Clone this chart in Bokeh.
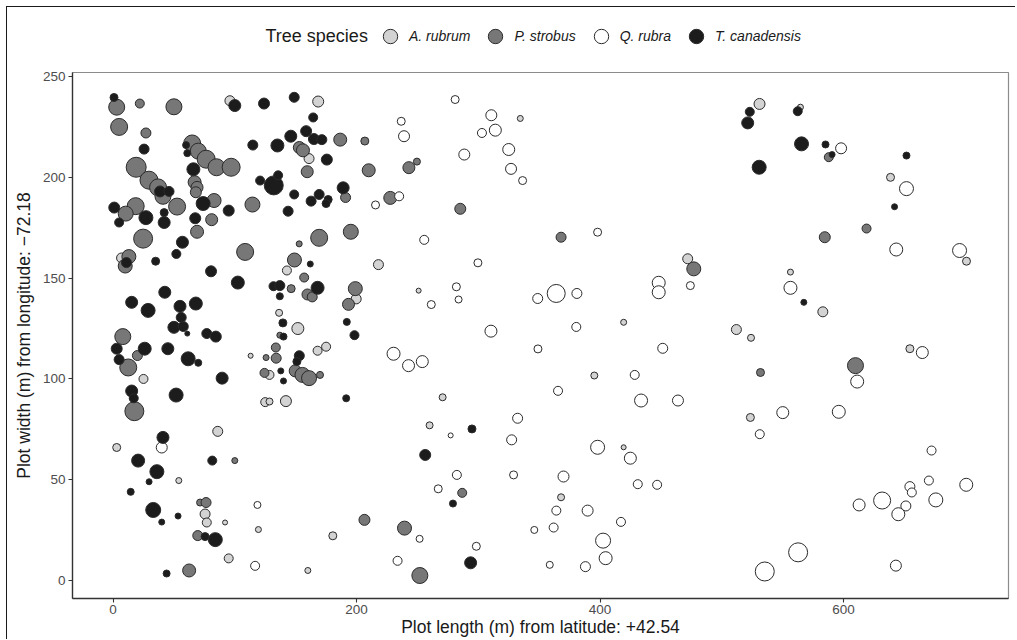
from bokeh.plotting import figure
from bokeh.layouts import column
from bokeh.models import (Range1d, FixedTicker, Legend, LegendItem, Label,
                          ColumnDataSource)
from bokeh.embed import file_html
from bokeh.resources import INLINE

# ---------------- data ----------------
species = ["A. rubrum", "P. strobus", "Q. rubra", "T. canadensis"]
fill_colors = ["#d3d3d3", "#777777", "#ffffff", "#1c1c1c"]

# A. rubrum
acru_x = [96, 168.5, 7, 161, 142.8, 218, 199.7, 136.4, 151.8, 113, 25, 86, 3, 54, 75.6, 77, 92, 95,
          168, 175, 128.5, 125, 128.5, 142, 119.4, 180.5, 160, 334.5, 472, 251, 419.4, 395.3, 270.7,
          260, 419.4, 368, 531, 564.6, 638.6, 701, 556.4, 583, 512, 524, 654.5, 523.5]
acru_y = [238, 237.6, 160, 209.3, 153.8, 156.7, 139.7, 132.8, 125, 111.5, 100, 74, 66, 49.6, 33, 28.8,
          28.8, 11, 114, 116, 102, 88.5, 88.8, 89, 25.3, 22.2, 5, 229.2, 159.6, 143.8, 128.1, 101.7,
          90.9, 77, 66.1, 41.3, 236.4, 234.8, 200, 158.4, 153, 133.3, 124.5, 120.4, 115, 80.9]
acru_d = [10, 11, 10, 10, 9, 10, 10, 7, 12, 5, 9, 10, 8, 6, 10, 9, 5, 9, 9, 9, 9, 9, 7, 11, 6, 8, 6,
          6, 10, 5, 6, 7, 7, 7, 5, 7, 11, 6, 8, 8, 6, 10, 10, 7, 8, 8]

# P. strobus
pist_x = [3, 22, 50, 5, 27, 65, 70, 76.5, 85, 97, 19, 29.5, 37, 41, 67, 69, 68, 83, 52.6, 18.6, 10.4,
          81, 69, 24.7, 13, 10, 108.5, 8, 20, 12.5, 100, 17.5, 71.5, 76.4, 69.6, 62.5,
          186.6, 206.8, 153, 156, 210, 243, 249.6, 159.5, 191, 114.5, 227.7, 169.3, 195.3, 152.9,
          149, 157, 146.3, 159.7, 163.6, 199, 193.4, 133.7, 125.7, 134, 124.4, 149.6, 155.6, 161,
          170, 206.5, 239.4, 252, 285.2, 368, 477, 286.8, 587.9, 618.9, 584.6, 609.8, 531.8, 137]
pist_y = [234.8, 236.6, 235, 225, 222, 216.8, 213, 209, 205, 205, 205, 198.6, 195, 190.6, 197.6, 195,
          192.6, 188.5, 185.5, 185.7, 182, 179, 173, 169.6, 160.7, 156, 163, 121, 111.6, 105.7, 59.5,
          84, 38.7, 38.7, 22.3, 5,
          218.7, 218, 214.8, 213.4, 203.5, 204.8, 207.8, 202.8, 190, 186.5, 189.8, 170, 173, 167,
          159, 150.3, 144.8, 141.9, 140.7, 144.8, 137, 115.6, 110.6, 110.3, 103, 104, 102, 100.4,
          102, 30.1, 26, 2.5, 184.4, 170.3, 154.6, 43.5, 210, 174.6, 170.3, 106.6, 103.2, 121.7]
pist_d = [16, 9, 16, 17, 10, 17, 16, 18, 17, 18, 20, 18, 17, 16, 13, 12, 11, 14, 17, 17, 15,
          12, 13, 19, 14, 14, 17, 16, 10, 17, 6, 19, 7, 10, 10, 13,
          13, 8, 12, 13, 13, 12, 7, 12, 10, 15, 13, 17, 15, 6,
          14, 9, 8, 11, 10, 14, 12, 9, 6, 10, 9, 12, 15, 15,
          7, 11, 14, 16, 11, 10, 14, 9, 9, 9, 11, 16, 8, 6]

# Q. rubra
quru_x = [40, 236.7, 239, 215.6, 235, 230.4, 242.7, 254, 118.6, 233.7, 251.8, 116.7, 281, 310.7, 303,
          314, 325, 288.5, 326.9, 336.4, 255.6, 398, 474.2, 299.7, 282, 283.8, 261.4, 348.8, 364, 381,
          448.2, 448.2, 310.4, 380.5, 349, 451.5, 428.5, 365.5, 433.7, 464, 277.3, 332.3, 327.4, 398,
          424.9, 282.4, 329, 370, 431, 446.9, 267.1, 364.1, 389.8, 417.2, 346, 361.9, 402.5, 298.4,
          404.6, 358.7, 388,
          598, 651.7, 643.3, 695.3, 556.4, 664.7, 611.2, 550.1, 596.1, 531.2, 672.3, 670.1, 654.5,
          656.1, 700.8, 675.8, 631.7, 612.8, 651.2, 645, 562.7, 535.3, 643]
quru_y = [66, 227.8, 220.4, 186.3, 190.6, 112.5, 106.6, 108.6, 37.5, 9.8, 20.7, 7.3, 238.6, 230.8, 222,
          223.4, 213.8, 211.3, 204.2, 198.4, 169, 172.8, 146.3, 157.6, 145.7, 139.4, 136.9, 139.9,
          142.4, 142.4, 147.7, 143, 123.7, 125.8, 114.9, 115.2, 102, 94.1, 89.3, 89.3, 72, 80.5, 69.8,
          66.1, 60.7, 52.4, 52.4, 51.6, 47.8, 47.5, 45.5, 34.7, 34.7, 29.1, 25.1, 26.3, 19.8, 17,
          11.1, 7.8, 6.9,
          214.4, 194.4, 164.2, 163.7, 145.2, 113.1, 98.7, 83.3, 83.7, 72.6, 64.5, 49.6, 46.6,
          43.7, 47.5, 40, 39.7, 37.5, 37, 32.9, 14, 4.5, 7.4]
quru_d = [11, 8, 11, 8, 9, 13, 12, 12, 7, 9, 7, 9, 8, 11, 9,
          12, 12, 11, 11, 8, 9, 8, 8, 8, 8, 7, 8, 10, 18, 10,
          13, 13, 12, 9, 8, 10, 9, 9, 13, 11, 5, 10, 10, 14,
          12, 9, 8, 11, 9, 9, 8, 9, 11, 9, 7, 9, 15, 8,
          13, 7, 10,
          11, 14, 13, 14, 13, 12, 13, 12, 13, 9, 9, 9, 10,
          9, 13, 14, 17, 12, 10, 13, 19, 19, 11]

# T. canadensis
tsca_x = [0.8, 100, 25.5, 60, 61, 66, 38.6, 46, 74, 1, 5, 27, 42, 42, 67.5, 95, 57, 52, 11, 35, 80.5,
          102.5, 42.5, 15.3, 28.8, 55, 68, 56, 50, 57.7, 61, 77, 84.4, 3, 26, 45, 5, 61.7, 70, 89.6,
          15.3, 17, 51.8, 41, 20.6, 81.5, 36, 29.6, 14.5, 33, 53.4, 40, 75.6, 84, 44,
          124, 148.8, 164.4, 114.8, 135, 146, 158.6, 165, 171.5, 175.6, 120.8, 132, 135.6, 148.8,
          143.8, 162.7, 169.3, 176.7, 175, 189, 162, 131.8, 137, 137, 168, 139.5, 192, 198.3, 140,
          153, 151, 137.8, 140, 191.5, 294.8, 256.4, 279.2, 293.7,
          523, 521.3, 562.4, 565.5, 530.7, 585.2, 590.6, 651.7, 641.9, 567.4]
tsca_y = [239.6, 235.6, 214, 216, 212, 204, 193, 193, 187, 185, 177.6, 180, 182.5, 177.6, 179.7, 183.5,
          167.8, 162, 157.7, 158.4, 153.4, 147.8, 143, 138, 134, 136, 137.4, 130.5, 125.6, 126, 122.5,
          122.5, 121, 115, 115, 115, 109.6, 110, 108, 100.4, 94, 90.4, 92, 71, 59.5, 59.5, 54, 49, 44,
          35, 32, 29, 21.8, 20.3, 3.5,
          236.6, 239.7, 229.7, 216, 215.8, 220.4, 222.9, 219, 218.7, 208.8, 198.4, 196, 201, 191.5,
          183.2, 188.2, 191.5, 189, 187, 194.8, 157, 146, 146.3, 141, 145.2, 127.8, 128.3, 121.7, 121,
          111.5, 108.6, 104, 99, 90.4, 75.2, 62.3, 38.2, 8.8,
          232.5, 227, 232.8, 216.6, 205, 216.3, 211.3, 210.8, 185.4, 138]
tsca_d = [8, 12, 10, 7, 7, 13, 11, 10, 14, 11, 9, 14, 8, 12, 11, 11, 12, 9, 10, 8, 11,
          13, 12, 12, 14, 12, 13, 10, 12, 10, 5, 10, 11, 11, 13, 12, 10, 14, 7, 12,
          12, 9, 14, 12, 13, 9, 14, 6, 7, 15, 6, 6, 8, 14, 7,
          11, 10, 9, 10, 13, 12, 11, 11, 10, 11, 9, 19, 9, 9,
          10, 10, 10, 8, 8, 12, 6, 9, 10, 7, 13, 8, 7, 9, 7,
          10, 8, 6, 6, 7, 8, 11, 7, 12,
          9, 12, 9, 14, 14, 7, 6, 7, 6, 6]

x_ticks = [0, 200, 400, 600]
y_ticks = [0, 50, 100, 150, 200, 250]

FONT = "Liberation Sans"
LINE = "#2b2b2b"

# ---------------- legend strip (top) ----------------
top = figure(width=1008, height=57, x_range=Range1d(0, 1), y_range=Range1d(0, 1),
             min_border=0, output_backend="svg", toolbar_location=None)
top.axis.visible = False
top.xgrid.visible = False
top.ygrid.visible = False
top.outline_line_color = None
top.background_fill_color = "white"
top.border_fill_color = "white"

# legend proxies: one point each, placed outside the visible range
legend_renderers = []
for col in fill_colors:
    r = top.scatter(x=[5], y=[5], marker="circle", size=14, fill_color=col,
                    line_color=LINE, line_width=1.0)
    legend_renderers.append(r)

legend = Legend(items=[LegendItem(label=s, renderers=[r])
                       for s, r in zip(species, legend_renderers)],
                orientation="horizontal", location=(300, 10),
                glyph_width=36, glyph_height=36, label_standoff=1, spacing=7,
                padding=0, margin=0, border_line_color=None, background_fill_alpha=0,
                label_text_font=FONT, label_text_font_size="14px",
                label_text_font_style="italic", label_text_color="#1a1a1a")
top.add_layout(legend, "center")

title = Label(x=193, y=29, x_units="screen", y_units="screen", text="Tree species",
              text_font=FONT, text_font_size="18px", text_color="#1a1a1a",
              text_baseline="middle", text_align="left")
top.add_layout(title)

# ---------------- main figure ----------------
p = figure(frame_width=936, frame_height=526,
           min_border_left=65, min_border_right=7, min_border_top=8, min_border_bottom=40,
           x_range=Range1d(-33.3, 735.5), y_range=Range1d(-8.9, 252),
           output_backend="svg", toolbar_location=None)
p.background_fill_color = "white"
p.border_fill_color = "white"
p.outline_line_color = "#8c8c8c"
p.outline_line_width = 1.2
p.xgrid.visible = False
p.ygrid.visible = False

for ax in (p.xaxis[0], p.yaxis[0]):
    ax.axis_line_color = "#333333"
    ax.axis_line_width = 1.3
    ax.major_tick_line_color = "#333333"
    ax.major_tick_line_width = 1.1
    ax.major_tick_in = 0
    ax.major_tick_out = 4
    ax.minor_tick_line_color = None
    ax.major_label_text_font = FONT
    ax.major_label_text_font_size = "13.5px"
    ax.major_label_text_color = "#4d4d4d"
    ax.axis_label_text_font = FONT
    ax.axis_label_text_font_size = "17.5px"
    ax.axis_label_text_font_style = "normal"
    ax.axis_label_text_color = "#1a1a1a"

p.xaxis.ticker = FixedTicker(ticks=x_ticks)
p.yaxis.ticker = FixedTicker(ticks=y_ticks)
p.xaxis.axis_label = "Plot length (m) from latitude: +42.54"
p.yaxis.axis_label = "Plot width (m) from longitude: \u221272.18"
p.xaxis.major_label_standoff = 2
p.xaxis.axis_label_standoff = 0
p.yaxis.major_label_standoff = 3
p.yaxis.axis_label_standoff = 6

data = [(acru_x, acru_y, acru_d), (pist_x, pist_y, pist_d),
        (quru_x, quru_y, quru_d), (tsca_x, tsca_y, tsca_d)]
for (xs, ys, ds), col in zip(data, fill_colors):
    src = ColumnDataSource(dict(x=xs, y=ys, s=ds))
    p.scatter("x", "y", size="s", source=src, marker="circle",
              fill_color=col, line_color=LINE, line_width=1.0)

layout = column(top, p, spacing=0)
layout.margin = (6, 0, 0, 6)
layout.styles = {"border-left": "1px solid #1a1a1a", "border-top": "1px solid #1a1a1a"}

open("out.html", "w").write(file_html(layout, INLINE))
